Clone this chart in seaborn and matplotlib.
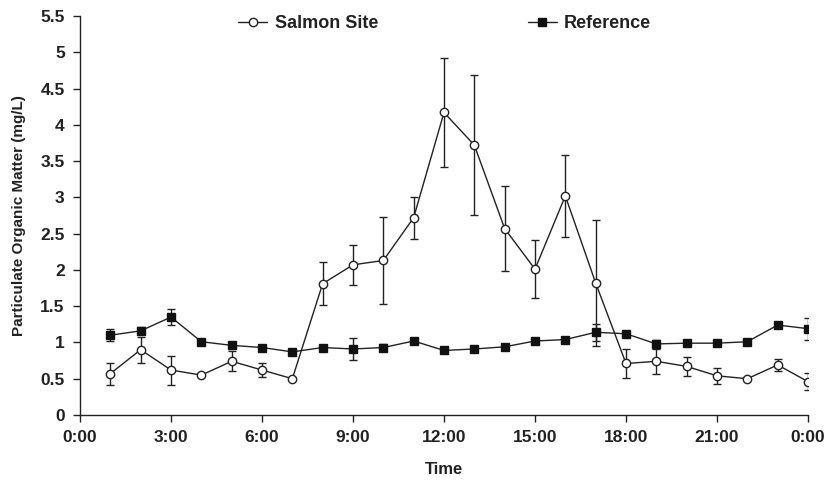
import matplotlib
matplotlib.use("Agg")
import matplotlib.pyplot as plt
import seaborn as sns
import pandas as pd
import numpy as np

hours = list(range(1, 25))
salmon = [0.57, 0.90, 0.62, 0.55, 0.74, 0.62, 0.50, 1.81, 2.07, 2.13, 2.72, 4.17,
          3.72, 2.57, 2.01, 3.02, 1.82, 0.71, 0.74, 0.67, 0.54, 0.50, 0.69, 0.46]
salmon_err = [0.15, 0.18, 0.20, 0.0, 0.14, 0.10, 0.0, 0.30, 0.28, 0.60, 0.29, 0.75,
              0.96, 0.58, 0.40, 0.57, 0.87, 0.20, 0.17, 0.13, 0.11, 0.0, 0.08, 0.12]
reference = [1.10, 1.16, 1.35, 1.01, 0.96, 0.93, 0.87, 0.93, 0.91, 0.93, 1.02, 0.89,
             0.91, 0.94, 1.02, 1.04, 1.14, 1.12, 0.98, 0.99, 0.99, 1.01, 1.24, 1.19]
reference_err = [0.08, 0.05, 0.11, 0.03, 0.03, 0.03, 0.03, 0.03, 0.15, 0.05, 0.03, 0.03,
                 0.03, 0.03, 0.03, 0.03, 0.12, 0.03, 0.05, 0.03, 0.03, 0.03, 0.03, 0.15]
xticks = [0, 3, 6, 9, 12, 15, 18, 21, 24]
xtick_labels = ["0:00", "3:00", "6:00", "9:00", "12:00", "15:00", "18:00", "21:00", "0:00"]
yticks = [0, 0.5, 1, 1.5, 2, 2.5, 3, 3.5, 4, 4.5, 5, 5.5]
ytick_labels = ["0", "0.5", "1", "1.5", "2", "2.5", "3", "3.5", "4", "4.5", "5", "5.5"]

sns.set_style("ticks")
plt.rcParams['font.family'] = ['Liberation Sans', 'DejaVu Sans']
plt.rcParams['font.weight'] = 'bold'

fig = plt.figure(figsize=(8.28, 4.8), dpi=100)
ax = fig.add_axes([80/828, 1-415/480, (808-80)/828, (415-16)/480])

df_s = pd.DataFrame({"hour": hours, "value": salmon})
df_r = pd.DataFrame({"hour": hours, "value": reference})

ink = '#222222'
ax.errorbar(hours, salmon, yerr=salmon_err, fmt='none', ecolor=ink,
            elinewidth=1, capsize=2.6, capthick=1, zorder=2)
ax.errorbar(hours, reference, yerr=reference_err, fmt='none', ecolor=ink,
            elinewidth=1, capsize=2.6, capthick=1, zorder=2)

sns.lineplot(data=df_s, x="hour", y="value", ax=ax, color=ink, linewidth=1,
             marker='o', markersize=6, markerfacecolor='white',
             markeredgecolor=ink, markeredgewidth=1, label="Salmon Site", zorder=3)
sns.lineplot(data=df_r, x="hour", y="value", ax=ax, color=ink, linewidth=1,
             marker='s', markersize=5.5, markerfacecolor='#111111',
             markeredgecolor='#111111', markeredgewidth=1, label="Reference", zorder=3)

ax.set_xlim(0, 24)
ax.set_ylim(0, 5.5)
ax.set_xticks(xticks)
ax.set_xticklabels(xtick_labels, fontsize=12.5, fontweight='bold', color=ink)
ax.set_yticks(yticks)
ax.set_yticklabels(ytick_labels, fontsize=12.5, fontweight='bold', color=ink)
ax.tick_params(axis='both', direction='out', length=5, width=1, color=ink)
ax.tick_params(axis='y', pad=6)
ax.tick_params(axis='x', pad=6)
for s in ['top', 'right']:
    ax.spines[s].set_visible(False)
for s in ['left', 'bottom']:
    ax.spines[s].set_linewidth(1)
    ax.spines[s].set_color(ink)

ax.set_xlabel("Time", fontsize=12, fontweight='bold', color=ink, labelpad=12)
ax.set_ylabel("Particulate Organic Matter (mg/L)", fontsize=11, fontweight='bold',
              color=ink, labelpad=10)

leg = ax.legend(loc='center', bbox_to_anchor=(0.501, 0.98), ncol=2, frameon=False,
                fontsize=13, handlelength=1.6, handletextpad=0.4, columnspacing=8.3)
for t in leg.get_texts():
    t.set_fontweight('bold')
    t.set_color(ink)

fig.savefig("out.png", dpi=100)
